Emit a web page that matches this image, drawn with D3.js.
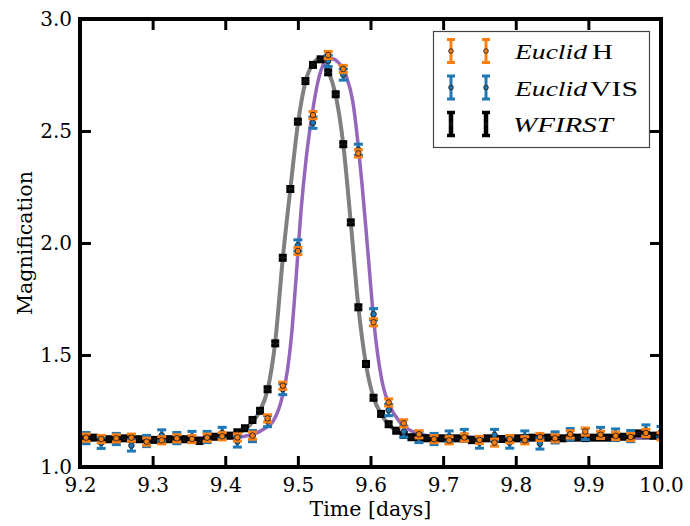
<!DOCTYPE html>
<html>
<head>
<meta charset="utf-8">
<script src="https://cdn.jsdelivr.net/npm/d3@7"></script>
<style>
  body { margin: 0; background: #fff; }
</style>
</head>
<body>
<svg id="chart" width="690" height="526"></svg>
<script>
// Euclid observation epochs (30 min cadence) and magnifications
const euclidTime = [9.2083, 9.2292, 9.25, 9.2708, 9.2917, 9.3125, 9.3333, 9.3542, 9.375, 9.3958,
  9.4167, 9.4375, 9.4583, 9.4792, 9.5, 9.5208, 9.5417, 9.5625, 9.5833, 9.6042,
  9.625, 9.6458, 9.6667, 9.6875, 9.7083, 9.7292, 9.75, 9.7708, 9.7917, 9.8125,
  9.8333, 9.8542, 9.875, 9.8958, 9.9167, 9.9375, 9.9583, 9.9792, 10.0];
const euclidH = [1.131, 1.125, 1.128, 1.131, 1.113, 1.119, 1.128, 1.125, 1.131, 1.137,
  1.132, 1.140, 1.217, 1.363, 1.964, 2.571, 2.839, 2.777, 2.400, 1.646,
  1.288, 1.195, 1.146, 1.124, 1.119, 1.132, 1.121, 1.109, 1.124, 1.119,
  1.134, 1.128, 1.146, 1.158, 1.144, 1.139, 1.134, 1.152, 1.137];
const euclidVIS = [1.129, 1.108, 1.125, 1.096, 1.116, 1.141, 1.129, 1.134, 1.134, 1.152,
  1.114, 1.138, 1.205, 1.348, 1.989, 2.537, 2.813, 2.752, 2.416, 1.682,
  1.254, 1.158, 1.134, 1.125, 1.136, 1.143, 1.109, 1.143, 1.109, 1.136,
  1.105, 1.132, 1.147, 1.147, 1.152, 1.145, 1.138, 1.163, 1.156];

// WFIRST observation epochs (15 min cadence) and magnifications
const wfirstTime = [9.2083, 9.2188, 9.2292, 9.2396, 9.25, 9.2604, 9.2708, 9.2813, 9.2917, 9.3021,
  9.3125, 9.3229, 9.3333, 9.3438, 9.3542, 9.3646, 9.375, 9.3854, 9.3958, 9.4063,
  9.4167, 9.4271, 9.4375, 9.4479, 9.4583, 9.4688, 9.4792, 9.4896, 9.5, 9.5104,
  9.5208, 9.5313, 9.5417, 9.5521, 9.5625, 9.5729, 9.5833, 9.5938, 9.6042, 9.6146,
  9.625, 9.6354, 9.6458, 9.6563, 9.6667, 9.6771, 9.6875, 9.6979, 9.7083, 9.7188,
  9.7292, 9.7396, 9.75, 9.7604, 9.7708, 9.7813, 9.7917, 9.8021, 9.8125, 9.8229,
  9.8333, 9.8438, 9.8542, 9.8646, 9.875, 9.8854, 9.8958, 9.9063, 9.9167, 9.9271,
  9.9375, 9.9479, 9.9583, 9.9688, 9.9792, 9.9896, 10.0];
const wfirstMag = [1.131, 1.131, 1.127, 1.124, 1.126, 1.128, 1.125, 1.124, 1.124, 1.121,
  1.122, 1.124, 1.126, 1.124, 1.126, 1.116, 1.128, 1.135, 1.135, 1.140,
  1.155, 1.173, 1.210, 1.251, 1.347, 1.552, 1.934, 2.241, 2.542, 2.723,
  2.795, 2.820, 2.762, 2.664, 2.441, 2.092, 1.713, 1.460, 1.309, 1.237,
  1.191, 1.162, 1.143, 1.133, 1.130, 1.128, 1.127, 1.128, 1.127, 1.128,
  1.127, 1.120, 1.124, 1.128, 1.126, 1.125, 1.127, 1.128, 1.129, 1.131,
  1.130, 1.131, 1.128, 1.128, 1.131, 1.131, 1.129, 1.131, 1.131, 1.131,
  1.131, 1.135, 1.134, 1.150, 1.145, 1.140, 1.140];

// Photometric uncertainties (magnification units)
const errH = 0.016;
const errVIS = 0.025;
const errW = 0.009;

// Model light curves as seen from each observatory
const modelWTime = [9.2, 9.3, 9.37, 9.395, 9.406, 9.417, 9.427, 9.4375, 9.4479, 9.4583,
  9.4687, 9.4792, 9.4896, 9.5, 9.5104, 9.5208, 9.5312, 9.5417, 9.5521, 9.5625,
  9.5729, 9.5833, 9.5937, 9.6042, 9.6146, 9.625, 9.6354, 9.6458, 9.6562, 9.68,
  9.75, 10.0];
const modelWMag = [1.128, 1.128, 1.130, 1.134, 1.139, 1.150, 1.168, 1.200, 1.252, 1.345,
  1.555, 1.930, 2.240, 2.530, 2.720, 2.800, 2.825, 2.770, 2.660, 2.440,
  2.090, 1.715, 1.460, 1.310, 1.237, 1.190, 1.162, 1.145, 1.136, 1.131,
  1.130, 1.130];
const modelETime = [9.2, 9.3, 9.38, 9.41, 9.425, 9.447, 9.458, 9.466, 9.479, 9.486,
  9.491, 9.4979, 9.5045, 9.5115, 9.5185, 9.5276, 9.5368, 9.5464, 9.556, 9.5666,
  9.5757, 9.5826, 9.5884, 9.5941, 9.6, 9.6045, 9.61, 9.617, 9.626, 9.64,
  9.658, 9.68, 9.72, 9.8, 10.0];
const modelEMag = [1.128, 1.128, 1.129, 1.131, 1.136, 1.158, 1.180, 1.205, 1.320, 1.440,
  1.580, 1.860, 2.150, 2.380, 2.550, 2.720, 2.805, 2.822, 2.805, 2.745,
  2.630, 2.450, 2.260, 2.050, 1.820, 1.650, 1.500, 1.366, 1.277, 1.202,
  1.158, 1.140, 1.134, 1.132, 1.132];

const xTicks = [9.2, 9.3, 9.4, 9.5, 9.6, 9.7, 9.8, 9.9, 10.0];
const yTicks = [1.0, 1.5, 2.0, 2.5, 3.0];

const colH = "#ff7f0e", colVIS = "#1f77b4", colW = "#000000";
const colModelW = "#808080", colModelE = "#9467bd";

const svg = d3.select("#chart");
const L = 80, R = 661, T = 19, B = 467;

const x = d3.scaleLinear().domain([9.2, 10.0]).range([L, R]);
const y = d3.scaleLinear().domain([1.0, 3.0]).range([B, T]);

svg.append("defs").append("clipPath").attr("id", "plotclip")
  .append("rect").attr("x", L).attr("y", T).attr("width", R - L).attr("height", B - T);

const plot = svg.append("g").attr("clip-path", "url(#plotclip)");

// model curves
const line = d3.line().x(d => x(d[0])).y(d => y(d[1])).curve(d3.curveMonotoneX);
plot.append("path")
  .attr("d", line(modelWTime.map((t, i) => [t, modelWMag[i]])))
  .attr("fill", "none").attr("stroke", colModelW).attr("stroke-width", 4);
plot.append("path")
  .attr("d", line(modelETime.map((t, i) => [t, modelEMag[i]])))
  .attr("fill", "none").attr("stroke", colModelE).attr("stroke-width", 3.5);

// error bar glyph: vertical bar, two caps and a small marker
function errbar(g, cx, cy, halfPx, color, o) {
  g.append("line").attr("x1", cx).attr("x2", cx).attr("y1", cy - halfPx).attr("y2", cy + halfPx)
    .attr("stroke", color).attr("stroke-width", o.barW);
  [cy - halfPx, cy + halfPx].forEach(yy => {
    g.append("line").attr("x1", cx - o.capW / 2).attr("x2", cx + o.capW / 2).attr("y1", yy).attr("y2", yy)
      .attr("stroke", color).attr("stroke-width", o.capStroke);
  });
  g.append("circle").attr("cx", cx).attr("cy", cy).attr("r", o.r)
    .attr("fill", color).attr("stroke", "#222").attr("stroke-width", 0.9);
}

const styleW = { barW: 5, capW: 8, capStroke: 4, r: 1.5 };
const styleE = { barW: 3, capW: 9, capStroke: 3, r: 2.8 };

function series(times, mags, err, color, o) {
  const g = plot.append("g");
  times.forEach((t, i) => {
    const cy = y(mags[i]);
    const half = Math.abs(y(mags[i] - err) - cy);
    errbar(g, x(t), cy, half, color, o);
  });
}

series(wfirstTime, wfirstMag, errW, colW, styleW);
series(euclidTime, euclidVIS, errVIS, colVIS, styleE);
series(euclidTime, euclidH, errH, colH, styleE);

// axes with inward ticks on all four sides
const fmt = d3.format(".1f");
const axB = svg.append("g").attr("transform", `translate(0,${B})`)
  .call(d3.axisBottom(x).tickValues(xTicks).tickFormat(fmt).tickSize(-11).tickPadding(11));
const axT = svg.append("g").attr("transform", `translate(0,${T})`)
  .call(d3.axisTop(x).tickValues(xTicks).tickFormat("").tickSize(-11));
const axLft = svg.append("g").attr("transform", `translate(${L},0)`)
  .call(d3.axisLeft(y).tickValues(yTicks).tickFormat(fmt).tickSize(-11).tickPadding(8));
const axRgt = svg.append("g").attr("transform", `translate(${R},0)`)
  .call(d3.axisRight(y).tickValues(yTicks).tickFormat("").tickSize(-11));
[axB, axT, axLft, axRgt].forEach(a => {
  a.select(".domain").remove();
  a.selectAll(".tick line").attr("stroke", "#000").attr("stroke-width", 3);
  a.selectAll(".tick text").style("font-family", "'DejaVu Serif', serif")
    .style("font-size", "20px").attr("fill", "#000");
});

// frame
svg.append("rect").attr("x", L).attr("y", T).attr("width", R - L).attr("height", B - T)
  .attr("fill", "none").attr("stroke", "#000").attr("stroke-width", 4);

// axis titles
svg.append("text").attr("x", (L + R) / 2).attr("y", 516).attr("text-anchor", "middle")
  .style("font-family", "'DejaVu Serif', serif").style("font-size", "20.5px").text("Time [days]");
svg.append("text").attr("transform", `translate(32,${(T + B) / 2}) rotate(-90)`)
  .attr("text-anchor", "middle")
  .style("font-family", "'DejaVu Serif', serif").style("font-size", "20.5px").text("Magnification");

// legend
const legend = svg.append("g");
legend.append("rect").attr("x", 433.5).attr("y", 31.5).attr("width", 216).attr("height", 116)
  .attr("fill", "#fff").attr("stroke", "#444").attr("stroke-width", 1.2);
const legendRows = [
  { color: colH, o: { barW: 3, capW: 8, capStroke: 3, r: 2.3 },
    parts: [{ s: "Euclid", italic: true, x: 515, w: 72 }, { s: "H", italic: false, x: 592, w: 21 }] },
  { color: colVIS, o: { barW: 3, capW: 8, capStroke: 3, r: 2.3 },
    parts: [{ s: "Euclid", italic: true, x: 515, w: 72 }, { s: "VIS", italic: false, x: 590, w: 48 }] },
  { color: colW, o: { barW: 4.5, capW: 8, capStroke: 3.5, r: 1.5 },
    parts: [{ s: "WFIRST", italic: true, x: 513, w: 100 }] }
];
const rowY = [51, 87.5, 124];
legendRows.forEach((row, i) => {
  const g = legend.append("g");
  [451, 486].forEach(cx => errbar(g, cx, rowY[i], 11.5, row.color, row.o));
  row.parts.forEach(p => {
    legend.append("text").attr("x", p.x).attr("y", rowY[i] + 8)
      .attr("textLength", p.w).attr("lengthAdjust", "spacingAndGlyphs")
      .style("font-family", "'Liberation Serif', serif").style("font-size", "22px")
      .style("font-style", p.italic ? "italic" : "normal").attr("fill", "#000")
      .text(p.s);
  });
});
</script>
</body>
</html>
